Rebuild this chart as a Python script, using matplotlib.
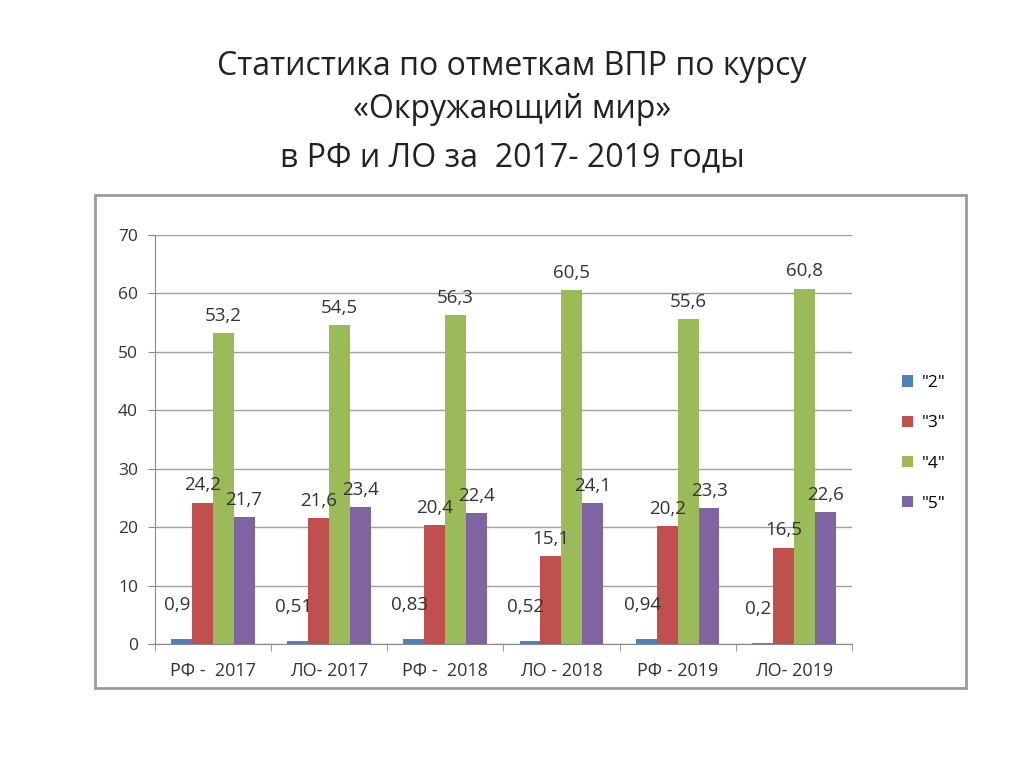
import numpy as np
import matplotlib.pyplot as plt
from matplotlib.patches import Rectangle

plt.rcParams['font.family'] = ['Open Sans', 'DejaVu Sans']

categories = ['РФ -  2017', 'ЛО- 2017', 'РФ -  2018', 'ЛО - 2018', 'РФ - 2019', 'ЛО- 2019']
series_names = ['"2"', '"3"', '"4"', '"5"']
grade2 = [0.9, 0.51, 0.83, 0.52, 0.94, 0.2]
grade3 = [24.2, 21.6, 20.4, 15.1, 20.2, 16.5]
grade4 = [53.2, 54.5, 56.3, 60.5, 55.6, 60.8]
grade5 = [21.7, 23.4, 22.4, 24.1, 23.3, 22.6]
colors = ['#4F81BD', '#C0504D', '#9BBB59', '#8064A2']

fig = plt.figure(figsize=(10.24, 7.67), dpi=100)

# title
fig.text(0.5, 0.913, 'Статистика по отметкам ВПР по курсу', ha='center', va='center',
         fontsize=23, color='#222222')
fig.text(0.5, 0.857, '«Окружающий мир»', ha='center', va='center',
         fontsize=23, color='#222222')
fig.text(0.5, 0.795, 'в РФ и ЛО за  2017- 2019 годы', ha='center', va='center',
         fontsize=23, color='#222222')

# chart frame
fig.patches.append(Rectangle((0.093, 0.103), 0.850, 0.643, transform=fig.transFigure,
                             fill=False, edgecolor='#9a9a9a', linewidth=2))

ax = fig.add_axes([0.151, 0.160, 0.681, 0.534])
x = np.arange(len(categories))
w = 0.18
data = [grade2, grade3, grade4, grade5]
for i, (vals, c, name) in enumerate(zip(data, colors, series_names)):
    pos = x + (i - 1.5) * w
    ax.bar(pos, vals, width=w, color=c, label=name, zorder=3)
    for p, v in zip(pos, vals):
        txt = f'{v:g}'.replace('.', ',')
        if i == 0:
            ax.annotate(txt, (p, v), xytext=(-3, 18), textcoords='offset points',
                        ha='center', va='bottom', fontsize=13.5, color='#333333', zorder=4)
        else:
            ax.annotate(txt, (p, v), xytext=(0, 6), textcoords='offset points',
                        ha='center', va='bottom', fontsize=13.5, color='#333333', zorder=4)

ax.set_xlim(-0.5, len(categories) - 0.5)
ax.set_ylim(0, 70)
ax.set_yticks(range(0, 71, 10))
ax.yaxis.grid(True, color='#a0a0a0', linewidth=1, zorder=0)
ax.set_xticks(x)
ax.set_xticklabels(categories, fontsize=13, color='#333333')
ax.set_xticks(np.arange(-0.5, len(categories), 1), minor=True)
ax.tick_params(axis='x', which='major', length=0, pad=13)
ax.tick_params(axis='x', which='minor', length=5, color='#888888')
ax.tick_params(axis='y', labelsize=12.5, labelcolor='#333333', color='#888888', length=5, pad=7)
for s in ['top', 'right']:
    ax.spines[s].set_visible(False)
ax.spines['left'].set_color('#888888')
ax.spines['bottom'].set_color('#888888')

ax.legend(loc='center left', bbox_to_anchor=(1.05, 0.49), frameon=False, fontsize=12.5,
          handlelength=0.6, handleheight=0.6, labelspacing=1.4, handletextpad=0.5)

plt.savefig('out.png', dpi=100)
